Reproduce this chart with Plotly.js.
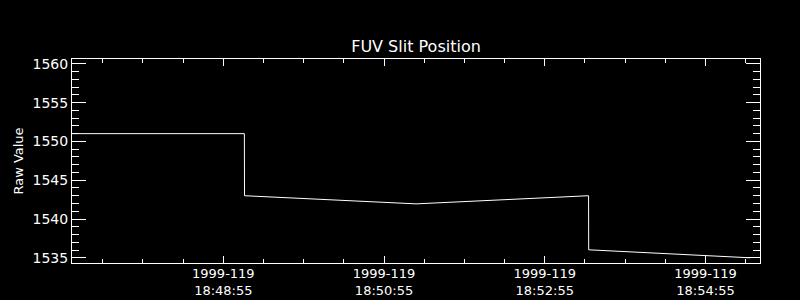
<!DOCTYPE html>
<html>
<head>
<meta charset="utf-8">
<script src="https://cdn.plot.ly/plotly-3.0.1.min.js"></script>
<style>html,body{margin:0;padding:0;background:#000;}#chart{width:800px;height:300px;}</style>
</head>
<body>
<div id="chart"></div>
<script>
var times = ["1999-04-29 18:47:02", "1999-04-29 18:49:10.7", "1999-04-29 18:49:10.8", "1999-04-29 18:51:18.9", "1999-04-29 18:53:27.7", "1999-04-29 18:53:27.8", "1999-04-29 18:55:28.4"];
var rawValues = [1551, 1551, 1543, 1541.95, 1543, 1536.03, 1535.0];
var tickVals = ["1999-04-29 18:48:55", "1999-04-29 18:50:55", "1999-04-29 18:52:55", "1999-04-29 18:54:55"];
var tickText = ["1999-119<br>18:48:55", "1999-119<br>18:50:55", "1999-119<br>18:52:55", "1999-119<br>18:54:55"];
var yTickVals = [1535, 1540, 1545, 1550, 1555, 1560];

var font = {family: "DejaVu Sans", size: 14, color: "#ffffff"};
var xfont = {family: "DejaVu Sans", size: 13, color: "#ffffff"};
Plotly.newPlot("chart", [{
  x: times, y: rawValues, type: "scatter", mode: "lines",
  line: {color: "#ffffff", width: 1}, hoverinfo: "skip"
}], {
  width: 800, height: 300,
  paper_bgcolor: "#000000", plot_bgcolor: "#000000",
  margin: {l: 72, r: 40, t: 59, b: 37},
  font: font,
  showlegend: false,
  title: {text: "FUV Slit Position", font: {family: "DejaVu Sans", size: 16, color: "#ffffff"}, x: 0.52, xanchor: "center", y: 0.845, yanchor: "middle"},
  xaxis: {
    type: "date",
    range: ["1999-04-29 18:47:02", "1999-04-29 18:55:35.7"],
    tickmode: "array", tickvals: tickVals, ticktext: tickText,
    ticks: "inside", ticklen: 7, tickwidth: 1, tickcolor: "#ffffff",
    ticklabelstandoff: -2,
    minor: {dtick: 30000, tick0: "1999-04-29 18:48:55", ticks: "inside", ticklen: 4, tickwidth: 1, tickcolor: "#ffffff", showgrid: false},
    showline: true, linecolor: "#ffffff", linewidth: 1, mirror: "ticks",
    showgrid: false, zeroline: false, tickfont: xfont
  },
  yaxis: {
    range: [1534.33, 1560.62],
    tickmode: "array", tickvals: yTickVals,
    ticks: "inside", ticklen: 14, tickwidth: 1, tickcolor: "#ffffff",
    minor: {dtick: 1, tick0: 1535, ticks: "inside", ticklen: 7, tickwidth: 1, tickcolor: "#ffffff", showgrid: false},
    showline: true, linecolor: "#ffffff", linewidth: 1, mirror: "ticks",
    showgrid: false, zeroline: false, tickfont: font,
    title: {text: "Raw Value", font: {family: "DejaVu Sans", size: 13, color: "#ffffff"}, standoff: 6}
  }
}, {staticPlot: true});
</script>
</body>
</html>
